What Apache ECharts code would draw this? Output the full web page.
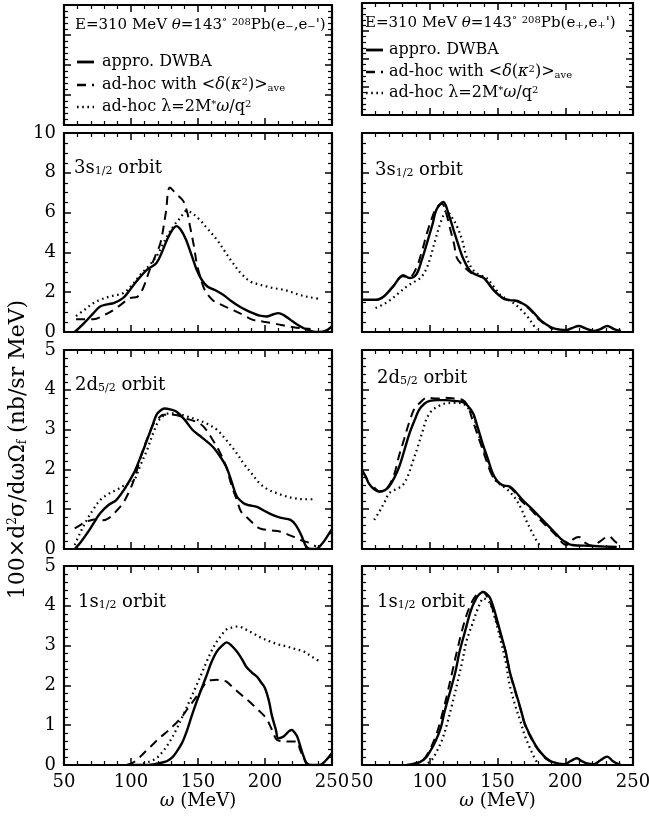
<!DOCTYPE html>
<html>
<head>
<meta charset="utf-8">
<script src="https://cdn.jsdelivr.net/npm/echarts@6/dist/echarts.min.js"></script>
<style>html,body{margin:0;padding:0;background:#fff}#c{width:649px;height:823px}</style>
</head>
<body>
<div id="c"></div>
<script>
// ---- tick labels ----
const xTicks = [50, 100, 150, 200, 250];
const yTicksTop = [0, 2, 4, 6, 8, 10];
const yTicksLow = [0, 1, 2, 3, 4, 5];

// ---- panel labels ----
const orbitLabels = ['3s{sub|1/2} orbit', '2d{sub|5/2} orbit', '1s{sub|1/2} orbit'];

// ---- data: [omega (MeV), value] ----
// 3s1/2, (e-,e-')
const s3m_dwba = [[58,0],[65,0.45],[72,0.95],[77,1.28],[83,1.4],[87,1.45],[94,1.7],[99,2.1],[104,2.54],[112,3.13],[119,3.47],[123,4.0],[127,4.65],[131,5.15],[134,5.32],[137,5.15],[141,4.65],[145,3.9],[149,3.13],[153,2.6],[157,2.29],[163,2.1],[169,1.86],[175,1.55],[181,1.28],[186,1.1],[191,0.95],[196,0.82],[201,0.78],[206,0.88],[210,0.95],[214,0.85],[219,0.61],[224,0.38],[229,0.19],[234,0.05],[238,0],[243,0.02],[247,0.12],[250,0.3]];
const s3m_adhoc = [[59,0.64],[72,0.64],[80,0.85],[87,1.11],[93,1.4],[99,1.7],[105,1.78],[109,2.2],[114,3.13],[118,3.8],[122,4.48],[126,6.0],[129,7.26],[134,6.92],[139,6.58],[142,6.0],[144,5.32],[147,4.3],[149,3.47],[152,2.7],[155,2.12],[161,1.6],[168,1.35],[176,1.11],[184,0.85],[191,0.61],[199,0.52],[206,0.44],[212,0.35],[219,0.27],[226,0.2],[234,0.15]];
const s3m_lambda = [[59,0.8],[65,1.1],[72,1.45],[77,1.62],[85,1.8],[94,1.95],[100,2.3],[107,2.88],[113,3.3],[119,3.8],[123,4.3],[127,4.81],[132,5.35],[137,5.75],[141,6.08],[145,6.0],[151,5.66],[157,5.2],[164,4.65],[170,4.05],[176,3.47],[182,2.95],[189,2.54],[195,2.4],[201,2.29],[207,2.2],[214,2.12],[220,2.0],[226,1.86],[233,1.75],[241,1.66]];
// 3s1/2, (e+,e+')
const s3p_dwba = [[50,1.62],[61,1.62],[66,1.78],[73,2.29],[80.5,2.85],[85,2.71],[90,2.88],[94,3.6],[98,4.48],[102,5.4],[105,6.16],[110,6.53],[114,5.9],[117.5,5.15],[121,4.4],[125,3.64],[130,3.05],[135,2.85],[140,2.71],[147,2.12],[154,1.7],[159,1.6],[164,1.58],[172,1.28],[177,0.95],[181.5,0.61],[186,0.38],[191,0.19],[196,0.12],[201,0.1],[205,0.2],[210,0.3],[215,0.18],[221,0.05],[226,0.15],[231,0.3],[236,0.15],[241,0.05]];
const s3p_adhoc = [[61,1.62],[66,1.78],[73,2.29],[80,2.8],[85,2.75],[90,3.2],[94,4.0],[98,4.98],[102,5.8],[105,6.25],[109,6.45],[112,6.0],[115,5.2],[118,4.4],[120,3.73],[125,3.3],[130,3.0],[135,2.85],[140,2.71],[147,2.12],[154,1.7],[159,1.6],[164,1.55],[172,1.25],[177,0.9],[181,0.6],[186,0.35],[191,0.15]];
const s3p_lambda = [[60,1.2],[66,1.4],[71,1.62],[77,1.95],[83,2.29],[88,2.5],[93,2.71],[97,3.1],[100,3.64],[104,4.6],[108,5.49],[112.5,6.08],[116,5.8],[120,5.32],[124,4.6],[127,3.8],[131,3.2],[136,2.9],[142,2.71],[147,2.3],[152,1.87],[157,1.65],[162,1.45],[167,1.15],[172,0.78],[176,0.4],[179,0.1]];
// 2d5/2, (e-,e-')
const d2m_dwba = [[58,0],[62,0.15],[69,0.48],[74,0.75],[77,0.9],[83,1.1],[89,1.23],[95,1.5],[102,1.9],[107,2.3],[112,2.74],[116,3.1],[119,3.37],[122,3.48],[125,3.53],[130,3.5],[134,3.45],[140,3.25],[146,2.99],[153,2.8],[161,2.57],[166,2.35],[171,2.07],[175,1.7],[179,1.32],[184,1.15],[188,1.1],[194,1.06],[200,0.95],[206,0.85],[212,0.78],[219,0.73],[223,0.6],[227,0.35],[231,0.05],[235,0],[238,0],[243,0.15],[248,0.4],[250,0.5]];
const d2m_adhoc = [[58,0.52],[63,0.62],[67,0.69],[74,0.75],[79,0.72],[84,0.79],[89,0.95],[94,1.15],[98,1.4],[102,1.72],[105,2.05],[109,2.49],[113,2.85],[117,3.16],[121,3.3],[124,3.37],[132,3.37],[141,3.28],[151,3.16],[156,3.0],[161,2.74],[166,2.45],[171,2.07],[175,1.6],[179,1.23],[182,0.95],[186,0.81],[191,0.65],[196,0.52],[204,0.47],[211,0.44],[216,0.38],[221,0.31],[227,0.22],[234,0.14],[238,0.06]];
const d2m_lambda = [[58,0.1],[62,0.4],[67,0.73],[72,1.0],[77,1.23],[83,1.38],[89,1.48],[95,1.6],[102,1.72],[107,2.1],[112,2.49],[117,2.95],[122,3.28],[129,3.41],[135,3.4],[142,3.33],[149,3.25],[156,3.16],[164,3.0],[171,2.74],[178,2.45],[184,2.15],[190,1.9],[196,1.65],[202,1.5],[209,1.4],[215,1.33],[221,1.28],[229,1.25],[237,1.25]];
// 2d5/2, (e+,e+')
const d2p_dwba = [[50,1.98],[53,1.8],[55,1.65],[59,1.5],[63,1.44],[67,1.48],[70,1.57],[74,1.8],[77.5,2.07],[81,2.45],[85,2.9],[89,3.25],[92,3.49],[96,3.65],[100,3.72],[106,3.74],[112,3.74],[118,3.72],[124,3.7],[128,3.6],[132,3.41],[135,3.1],[139,2.65],[143,2.25],[146.5,1.9],[150,1.7],[154,1.6],[159,1.57],[163,1.45],[168.6,1.23],[175,1.02],[181,0.81],[187,0.6],[193,0.39],[197,0.25],[201,0.16],[205,0.1],[218,0.08],[230,0.06],[238,0.05]];
const d2p_adhoc = [[59,1.55],[63,1.45],[67,1.5],[70,1.6],[74,1.9],[77,2.3],[81,2.75],[85,3.2],[89,3.55],[92,3.65],[98,3.8],[106,3.78],[112,3.8],[118,3.78],[124,3.75],[128,3.6],[131,3.3],[134,3.0],[138,2.6],[142,2.2],[146,1.85],[150,1.68],[154,1.6],[159,1.55],[163,1.42],[168,1.2],[175,0.98],[181,0.75],[187,0.55],[193,0.35],[198,0.15],[201,0.1],[206,0.25],[210,0.3],[215,0.15],[220,0.08],[226,0.2],[232,0.32],[237,0.18],[241,0.06]];
const d2p_lambda = [[59,0.73],[63,0.95],[67,1.2],[70,1.4],[75,1.5],[80,1.6],[84,1.85],[87,2.15],[91,2.55],[95,2.99],[98,3.3],[102,3.49],[107,3.6],[112,3.66],[118,3.67],[124,3.66],[128,3.55],[132,3.37],[135,3.0],[139,2.57],[143,2.2],[146.5,1.82],[151,1.65],[156,1.53],[160,1.4],[164,1.23],[168,0.98],[171,0.73],[175,0.45],[178.5,0.23],[181,0.1]];
// 1s1/2, (e-,e-')
const s1m_dwba = [[97,0],[110,0],[119,0.03],[123,0.06],[127,0.1],[131,0.2],[134,0.33],[138,0.55],[141.5,0.84],[145,1.2],[149,1.59],[153,1.95],[156.5,2.26],[160,2.58],[164,2.85],[168,3.0],[171.4,3.08],[175,3.0],[179,2.85],[183,2.65],[186,2.47],[190,2.33],[194,2.22],[197,2.08],[200,1.93],[203,1.6],[205,1.26],[208,0.9],[210,0.67],[213,0.7],[215,0.75],[218,0.85],[220,0.88],[222,0.82],[224,0.72],[227,0.4],[229,0.2],[231,0.04],[235,0],[241,0],[245,0.1],[250,0.3]];
const s1m_adhoc = [[97,0],[101,0.05],[104,0.12],[107,0.21],[112,0.38],[117,0.54],[122,0.7],[127,0.84],[132,1.0],[137,1.17],[142,1.4],[147,1.63],[152,1.87],[156.5,2.1],[160,2.13],[164,2.14],[168,2.12],[171,2.1],[176,1.95],[181,1.8],[186,1.66],[191,1.51],[196,1.35],[201,1.17],[205,0.9],[209,0.63],[214,0.6],[219,0.59],[224,0.59],[226,0.4],[229,0.17],[232,0]];
const s1m_lambda = [[109,0.04],[114,0.09],[119,0.17],[124,0.35],[129,0.59],[134,0.9],[139,1.26],[144,1.63],[149,2.01],[153,2.32],[156.5,2.6],[160,2.86],[164,3.1],[168,3.28],[171,3.4],[176,3.46],[180,3.48],[186,3.4],[191,3.31],[197,3.2],[204,3.1],[210,3.03],[216,2.98],[222,2.92],[229,2.85],[235,2.72],[241,2.6]];
// 1s1/2, (e+,e+')
const s1p_dwba = [[83,0],[88,0.03],[93,0.08],[97,0.18],[100,0.33],[104,0.58],[108,0.92],[111,1.35],[115,1.84],[119,2.35],[122,2.85],[126,3.35],[130,3.85],[133,4.1],[136,4.27],[139.6,4.35],[142,4.3],[144.6,4.19],[148,3.85],[152,3.35],[156,2.85],[159,2.35],[163,1.88],[167,1.42],[170,1.05],[174,0.75],[178,0.5],[181.5,0.33],[186,0.17],[191,0.07],[199,0.02],[204,0.1],[208.6,0.17],[212,0.1],[216,0.04],[221,0.02],[226,0.12],[231,0.21],[235,0.1],[238,0.04],[241,0]];
const s1p_adhoc = [[85,0],[90,0.04],[95,0.12],[100,0.38],[105,0.78],[109,1.25],[113,1.8],[117,2.4],[120,2.85],[124,3.4],[128,3.85],[132,4.15],[136,4.32],[139,4.35],[142,4.25],[145,4.05],[148,3.75],[152,3.3],[156,2.85],[159,2.35],[163,1.85],[167,1.4],[170,1.03],[174,0.73],[178,0.48],[182,0.3],[186,0.15],[191,0.06],[196,0.02]];
const s1p_lambda = [[95,0],[98,0.04],[102,0.15],[105,0.33],[109,0.62],[112.5,1.0],[116,1.45],[120,2.01],[124,2.6],[127,3.1],[131,3.5],[134.6,3.85],[137,4.05],[139.6,4.19],[142,4.15],[144.6,4.06],[148,3.7],[152,3.18],[156,2.6],[159,2.01],[163,1.5],[167,1.09],[170,0.75],[174,0.42],[177,0.2],[179,0.08]];

// ---- styling / layout ----
const F = "'DejaVu Serif', serif";
const BLACK = '#000';
const colX = [{left: 64, width: 268}, {left: 362, width: 271}];
const rowY = [{top: 133, height: 199}, {top: 350, height: 199}, {top: 566, height: 199}];
const styles = {
  dwba:   {type: 'solid', width: 2.4},
  adhoc:  {type: [9, 6], width: 2},
  lambda: {type: [1.6, 3.6], width: 2.2}
};
const richSmall = {
  sub: {fontSize: 10, fontFamily: F, color: BLACK, fill: BLACK, verticalAlign: 'bottom'},
  sup: {fontSize: 10, fontFamily: F, color: BLACK, fill: BLACK, verticalAlign: 'top'},
  i: {fontSize: 15, fontFamily: F, fontStyle: 'italic', color: BLACK, fill: BLACK}
};
const richRow = {
  sub: {fontSize: 10, fontFamily: F, color: BLACK, fill: BLACK, verticalAlign: 'bottom'},
  sup: {fontSize: 10, fontFamily: F, color: BLACK, fill: BLACK, verticalAlign: 'top'},
  i: {fontSize: 16, fontFamily: F, fontStyle: 'italic', color: BLACK, fill: BLACK}
};
const richLabel = {
  sub: {fontSize: 11, fontFamily: F, color: BLACK, fill: BLACK, verticalAlign: 'bottom'},
  sup: {fontSize: 11, fontFamily: F, color: BLACK, fill: BLACK, verticalAlign: 'top'},
  i: {fontSize: 18, fontFamily: F, fontStyle: 'italic', color: BLACK, fill: BLACK}
};
const richTitle = {
  sub: {fontSize: 12, fontFamily: F, color: BLACK, verticalAlign: 'bottom'},
  sup: {fontSize: 12, fontFamily: F, color: BLACK, verticalAlign: 'top'}
};

const grids = [], xAxes = [], yAxes = [], series = [], graphics = [];

function addBox(left, top, width, height, ymax, yint, ysplit, showX, showY, extra) {
  const gi = grids.length;
  grids.push({left, top, width, height, containLabel: false, outerBoundsMode: 'none'});
  const tick = {show: true, inside: true, length: 7, lineStyle: {color: BLACK, width: 1.5}};
  const minor = (n) => ({show: true, splitNumber: n, length: 4, lineStyle: {color: BLACK, width: 1.2}});
  const line = {show: true, onZero: false, lineStyle: {color: BLACK, width: 2.2}};
  const xb = {gridIndex: gi, type: 'value', min: 50, max: 250, interval: 50, position: 'bottom',
    axisLine: line, axisTick: tick, minorTick: minor(5), splitLine: {show: false},
    axisLabel: {show: showX, fontFamily: F, fontSize: 18, color: BLACK, margin: 8, showMinLabel: true, showMaxLabel: true, hideOverlap: false}};
  if (extra && extra.xname) {
    Object.assign(xb, {name: '{i|ω} (MeV)', nameLocation: 'middle', nameGap: 27,
      nameTextStyle: {fontFamily: F, fontSize: 18, color: BLACK, rich: richLabel}});
  }
  const xi = xAxes.length;
  xAxes.push(xb);
  xAxes.push({gridIndex: gi, type: 'value', min: 50, max: 250, interval: 50, position: 'top',
    axisLine: line, axisTick: tick, minorTick: minor(5), splitLine: {show: false}, axisLabel: {show: false}});
  const yl = {gridIndex: gi, type: 'value', min: 0, max: ymax, interval: yint, position: 'left',
    axisLine: line, axisTick: tick, minorTick: minor(ysplit), splitLine: {show: false},
    axisLabel: {show: showY, fontFamily: F, fontSize: 18, color: BLACK, margin: 8, showMinLabel: true, showMaxLabel: true}};
  if (extra && extra.yname) {
    Object.assign(yl, {name: '100×d{sup|2}σ/dωΩ{sub|f} (nb/sr MeV)', nameLocation: 'middle', nameGap: 35, nameRotate: 90,
      nameTextStyle: {fontFamily: F, fontSize: 22, color: BLACK, rich: richTitle}});
  }
  const yi = yAxes.length;
  yAxes.push(yl);
  yAxes.push({gridIndex: gi, type: 'value', min: 0, max: ymax, interval: yint, position: 'right',
    axisLine: line, axisTick: tick, minorTick: minor(ysplit), splitLine: {show: false}, axisLabel: {show: false}});
  return {xi, yi};
}

function addCurve(ax, data, kind) {
  series.push({type: 'line', xAxisIndex: ax.xi, yAxisIndex: ax.yi, data: data,
    showSymbol: false, symbol: 'none', smooth: 0.35, clip: true, silent: true, animation: false,
    lineStyle: {color: BLACK, width: styles[kind].width, type: styles[kind].type}});
}

const panels = [
  [s3m_dwba, s3m_adhoc, s3m_lambda, s3p_dwba, s3p_adhoc, s3p_lambda, 10, 2, 4],
  [d2m_dwba, d2m_adhoc, d2m_lambda, d2p_dwba, d2p_adhoc, d2p_lambda, 5, 1, 5],
  [s1m_dwba, s1m_adhoc, s1m_lambda, s1p_dwba, s1p_adhoc, s1p_lambda, 5, 1, 5]
];
const orbitPos = [[[74, 168], [375, 170]], [[75, 385], [377, 378]], [[78, 602], [377, 602]]];

panels.forEach((p, r) => {
  for (let c = 0; c < 2; c++) {
    const isBottom = r === 2;
    const ax = addBox(colX[c].left, rowY[r].top, colX[c].width, rowY[r].height, p[6], p[7], p[8],
      isBottom, c === 0, {xname: isBottom, yname: (r === 1 && c === 0)});
    addCurve(ax, p[c * 3 + 0], 'dwba');
    addCurve(ax, p[c * 3 + 1], 'adhoc');
    addCurve(ax, p[c * 3 + 2], 'lambda');
    graphics.push({type: 'text', x: orbitPos[r][c][0], y: orbitPos[r][c][1], z: 100,
      style: {text: orbitLabels[r], fontFamily: F, fontSize: 18, fill: BLACK, verticalAlign: 'middle', rich: richLabel}});
  }
});

// legend boxes
addBox(64, 5, 268, 120, 4, 1, 5, false, false);
addBox(362, 3, 271, 112, 4, 1, 5, false, false);

const legendTexts = ['appro. DWBA', 'ad-hoc with <{i|δ}({i|κ}{sup|2})>{sub|ave}', 'ad-hoc λ=2M{sup|*}{i|ω}/q{sup|2}'];
const legendKinds = ['dwba', 'adhoc', 'lambda'];
const legends = [
  {title: "E=310 MeV {i|θ}=143{sup|°} {sup|208}Pb(e{sub|−},e{sub|−}')", tx: 75, ty: 25, lx: 77, lx2: 94, textX: 102, rows: [62, 85, 107]},
  {title: "E=310 MeV {i|θ}=143{sup|°} {sup|208}Pb(e{sub|+},e{sub|+}')", tx: 365, ty: 23, lx: 366, lx2: 383, textX: 389, rows: [50, 72, 93]}
];
legends.forEach(L => {
  graphics.push({type: 'text', x: L.tx, y: L.ty, z: 100,
    style: {text: L.title, fontFamily: F, fontSize: 15, fill: BLACK, verticalAlign: 'middle', rich: richSmall}});
  L.rows.forEach((yy, k) => {
    const st = styles[legendKinds[k]];
    graphics.push({type: 'line', z: 100, shape: {x1: L.lx, y1: yy, x2: L.lx2, y2: yy},
      style: {stroke: BLACK, lineWidth: st.width + 0.4, lineDash: st.type === 'solid' ? null : st.type}});
    graphics.push({type: 'text', x: L.textX, y: yy, z: 100,
      style: {text: legendTexts[k], fontFamily: F, fontSize: 16, fill: BLACK, verticalAlign: 'middle', rich: richRow}});
  });
});

const chart = echarts.init(document.getElementById('c'), null, {renderer: 'canvas'});
chart.setOption({
  animation: false,
  backgroundColor: '#fff',
  grid: grids,
  xAxis: xAxes,
  yAxis: yAxes,
  series: series,
  graphic: graphics
});
</script>
</body>
</html>
